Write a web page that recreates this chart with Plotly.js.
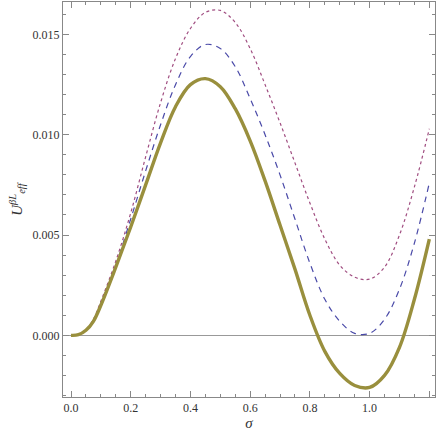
<!DOCTYPE html>
<html>
<head>
<meta charset="utf-8">
<script src="https://cdn.plot.ly/plotly-3.0.1.min.js"></script>
<style>html,body{margin:0;padding:0;background:#fff;}#chart{width:436px;height:436px;}</style>
</head>
<body>
<div id="chart"></div>
<script>
var sigma = [0, 0.025, 0.05, 0.075, 0.1, 0.15, 0.2, 0.25, 0.3, 0.35, 0.4, 0.45, 0.5, 0.55, 0.6, 0.65, 0.7, 0.75, 0.8, 0.85, 0.9, 0.95, 1.0, 1.05, 1.1, 1.15, 1.2];
var uSolid  = [0, 0.00003, 0.00025, 0.0007, 0.0015, 0.0034, 0.0054, 0.0075, 0.0096, 0.0114, 0.0125, 0.0128, 0.0124, 0.0113, 0.0097, 0.0077, 0.0055, 0.0033, 0.0010, -0.0008, -0.0019, -0.0025, -0.0026, -0.0020, -0.0006, 0.0018, 0.0048];
var uDashed = [0, 0.00003, 0.00026, 0.00075, 0.0016, 0.0035, 0.0058, 0.0082, 0.0105, 0.0125, 0.0139, 0.0145, 0.0143, 0.0134, 0.0118, 0.0100, 0.0080, 0.0058, 0.0036, 0.0018, 0.0007, 0.0001, 0.0001, 0.0008, 0.0023, 0.0046, 0.0076];
var uDotted = [0, 0.00003, 0.00027, 0.0008, 0.0017, 0.0037, 0.0061, 0.0089, 0.0116, 0.0138, 0.0153, 0.0161, 0.0162, 0.0156, 0.0143, 0.0125, 0.0106, 0.0086, 0.0066, 0.0048, 0.0035, 0.0029, 0.0028, 0.0034, 0.0050, 0.0074, 0.0103];
var xTicks = [0, 0.2, 0.4, 0.6, 0.8, 1.0, 1.2];
var yTicks = [0, 0.005, 0.010, 0.015];

var traces = [
  {x: sigma, y: uDotted, mode: 'lines', line: {color: '#a04d80', width: 1.2, dash: 'dot', shape: 'spline', smoothing: 1}, hoverinfo: 'skip'},
  {x: sigma, y: uDashed, mode: 'lines', line: {color: '#4a4aa8', width: 1.2, dash: '6px,5px', shape: 'spline', smoothing: 1}, hoverinfo: 'skip'},
  {x: sigma, y: uSolid, mode: 'lines', line: {color: '#998f3d', width: 3.4, shape: 'spline', smoothing: 1}, hoverinfo: 'skip'}
];

var axisCommon = {
  showgrid: false,
  showline: true,
  linecolor: '#888',
  linewidth: 1,
  mirror: 'allticks',
  ticks: 'inside',
  ticklen: 6,
  tickcolor: '#888',
  tickwidth: 1,
  tickfont: {family: 'Liberation Serif, serif', size: 12, color: '#333'}
};

var layout = {
  width: 436, height: 436,
  margin: {l: 63, r: 1, t: 2, b: 39},
  paper_bgcolor: '#fff', plot_bgcolor: '#fff',
  showlegend: false,
  xaxis: Object.assign({}, axisCommon, {
    range: [-0.0268, 1.219],
    tickvals: xTicks,
    ticktext: xTicks.map(function(v){return v.toFixed(1);}),
    zeroline: false,
    minor: {dtick: 0.05, tick0: 0, ticks: 'inside', ticklen: 3, tickcolor: '#888', showgrid: false},
    title: {text: '<i>σ</i>', font: {family: 'Liberation Serif, serif', size: 15, color: '#333'}, standoff: 0}
  }),
  yaxis: Object.assign({}, axisCommon, {
    range: [-0.003075, 0.01662],
    tickvals: yTicks,
    ticktext: yTicks.map(function(v){return v.toFixed(3);}),
    zeroline: true,
    zerolinecolor: '#999',
    zerolinewidth: 1,
    minor: {dtick: 0.001, tick0: 0, ticks: 'inside', ticklen: 3, tickcolor: '#888', showgrid: false},
    title: {text: '<i>U</i><sup><i>βL</i></sup><sub><i>eff</i></sub>', font: {family: 'Liberation Serif, serif', size: 15, color: '#333'}, standoff: 6}
  })
};

Plotly.newPlot('chart', traces, layout, {staticPlot: true, displayModeBar: false});
</script>
</body>
</html>
